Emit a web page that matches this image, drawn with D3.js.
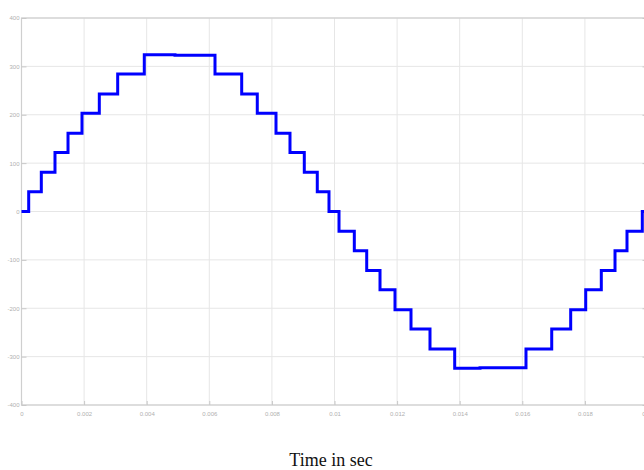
<!DOCTYPE html>
<html>
<head>
<meta charset="utf-8">
<script src="https://cdn.jsdelivr.net/npm/d3@7"></script>
<style>
  html, body { margin: 0; padding: 0; background: #fff; }
  svg { display: block; }
  .tick text { font-family: "Liberation Sans", Arial, sans-serif; font-size: 6px; fill: #b0b0b0; }
</style>
</head>
<body>
<svg id="chart" width="644" height="470"></svg>
<script>
// start time of each step (s) and the level held from that time on
const stepTimes = [
  0, 0.00023, 0.000633, 0.00107, 0.001486, 0.001933, 0.002486, 0.003073, 0.003923,
  0.004904,
  0.006182, 0.007035, 0.007533, 0.008131, 0.008578, 0.009035, 0.00945, 0.009824,
  0.010144, 0.010633, 0.011029, 0.011454, 0.011933, 0.012444, 0.013051, 0.01384,
  0.014649,
  0.016118, 0.01694, 0.017546, 0.018026, 0.018524, 0.018962, 0.019345, 0.019834
];
const stepLevels = [
  0, 41, 81, 122, 162, 203, 243, 284, 324,
  323,
  284, 243, 203, 162, 122, 81, 41, 0,
  -41, -81, -122, -162, -203, -243, -284, -324,
  -323,
  -284, -243, -203, -162, -122, -81, -41, 0
];
const endTime = 0.02;
const xTicks = [0, 0.002, 0.004, 0.006, 0.008, 0.01, 0.012, 0.014, 0.016, 0.018, 0.02];
const yTicks = [-400, -300, -200, -100, 0, 100, 200, 300, 400];
const xTitle = "Time in sec";

const svg = d3.select("#chart");
const margin = { top: 18, left: 21.5, right: 647.5, bottom: 405 };

const x = d3.scaleLinear().domain([0, 0.02]).range([margin.left, margin.right]);
const y = d3.scaleLinear().domain([-400, 400]).range([margin.bottom, margin.top]);

// grid
svg.append("g")
  .selectAll("line.vg")
  .data(xTicks)
  .join("line")
  .attr("x1", (d) => x(d)).attr("x2", (d) => x(d))
  .attr("y1", margin.top).attr("y2", margin.bottom)
  .attr("stroke", "#e6e6e6").attr("stroke-width", 1);

svg.append("g")
  .selectAll("line.hg")
  .data(yTicks)
  .join("line")
  .attr("x1", margin.left).attr("x2", margin.right)
  .attr("y1", (d) => y(d)).attr("y2", (d) => y(d))
  .attr("stroke", "#e6e6e6").attr("stroke-width", 1);

// frame
svg.append("rect")
  .attr("x", margin.left).attr("y", margin.top)
  .attr("width", margin.right - margin.left)
  .attr("height", margin.bottom - margin.top)
  .attr("fill", "none").attr("stroke", "#cfcfcf").attr("stroke-width", 1.2);

const fmtX = (d) => String(+d.toFixed(3));

svg.append("g")
  .attr("transform", `translate(0,${margin.bottom})`)
  .call(d3.axisBottom(x).tickValues(xTicks).tickSizeInner(-4).tickSizeOuter(0).tickPadding(7).tickFormat(fmtX))
  .call((g) => g.select(".domain").remove())
  .call((g) => g.selectAll(".tick line").attr("stroke", "#c8c8c8"));

svg.append("g")
  .attr("transform", `translate(${margin.left},0)`)
  .call(d3.axisLeft(y).tickValues(yTicks).tickSizeInner(-5).tickSizeOuter(0).tickPadding(2).tickFormat((d) => d))
  .call((g) => g.select(".domain").remove())
  .call((g) => g.selectAll(".tick line").attr("stroke", "#c8c8c8"));

svg.append("g")
  .attr("transform", `translate(${margin.right},0)`)
  .call(d3.axisRight(y).tickValues(yTicks).tickSizeInner(-5).tickSizeOuter(0).tickFormat(""))
  .call((g) => g.select(".domain").remove())
  .call((g) => g.selectAll(".tick line").attr("stroke", "#c8c8c8"));

// staircase signal
const points = stepTimes.map((t, i) => [t, stepLevels[i]]);
points.push([endTime, stepLevels[stepLevels.length - 1]]);

svg.append("path")
  .datum(points)
  .attr("fill", "none")
  .attr("stroke", "#0000ff")
  .attr("stroke-width", 3)
  .attr("stroke-linejoin", "miter")
  .attr("d", d3.line().x((d) => x(d[0])).y((d) => y(d[1])).curve(d3.curveStepAfter));

svg.append("text")
  .attr("x", 331)
  .attr("y", 466)
  .attr("text-anchor", "middle")
  .attr("font-family", "'Liberation Serif', 'Times New Roman', serif")
  .attr("font-size", 18)
  .attr("fill", "#111")
  .text(xTitle);
</script>
</body>
</html>
